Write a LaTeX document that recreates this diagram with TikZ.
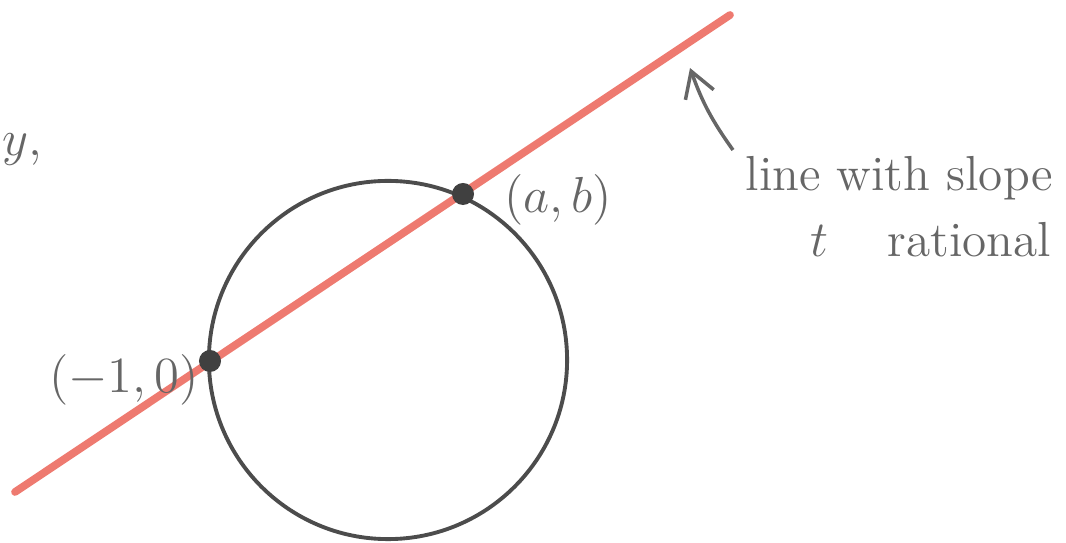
\documentclass[tikz,border=0pt]{standalone}
\usepackage{tikz}
\usetikzlibrary{arrows.meta, positioning}

\begin{document}
\begin{tikzpicture}[
    x=0.01cm, y=-0.01cm,
    redline/.style={line width=2.2pt, color={rgb,255:red,238;green,122;blue,112}, line cap=round},
    ring/.style={line width=1.1pt, color=black!70},
    dot/.style={circle, fill=black!75, inner sep=0pt, minimum size=0.22cm},
    hand/.style={color=black!60, font=\fontsize{14}{17}\selectfont, inner sep=0pt, align=left},
    arrow/.style={-{Straight Barb[length=2.5mm, width=3mm]}, line width=1pt, color=black!60}
]
    \useasboundingbox (0,0) rectangle (1066,543);

    % Unit circle
    \node[ring, circle, draw, minimum size=3.58cm, inner sep=0pt] (circ) at (388,360) {};

    % Line through (-1,0)
    \coordinate (lineStart) at (15,492);
    \coordinate (lineEnd) at (730,15);
    \draw[redline] (lineStart) -- (lineEnd);

    % Intersection points
    \node[dot] (minusone) at (210,361) {};
    \node[dot] (ab) at (463,194) {};

    % Labels
    \node[hand] (lblminusone) at (124,380) {$(-1,0)$};
    \node[hand] (lblab) at (558,200) {$(a,b)$};
    \node[hand] (lbly) at (22,150) {$y,$};
    \node[hand, anchor=west] (lblline) at (745,178) {line with slope};
    \node[hand, anchor=west] (lblrational) at (810,240) {$t$\hspace{1.2em}rational};

    % Pointer to the line
    \coordinate (arrowtail) at (733,150);
    \coordinate (arrowtip) at (690,68);
    \draw[arrow] (arrowtail) to[bend left=8] (arrowtip);
\end{tikzpicture}
\end{document}
